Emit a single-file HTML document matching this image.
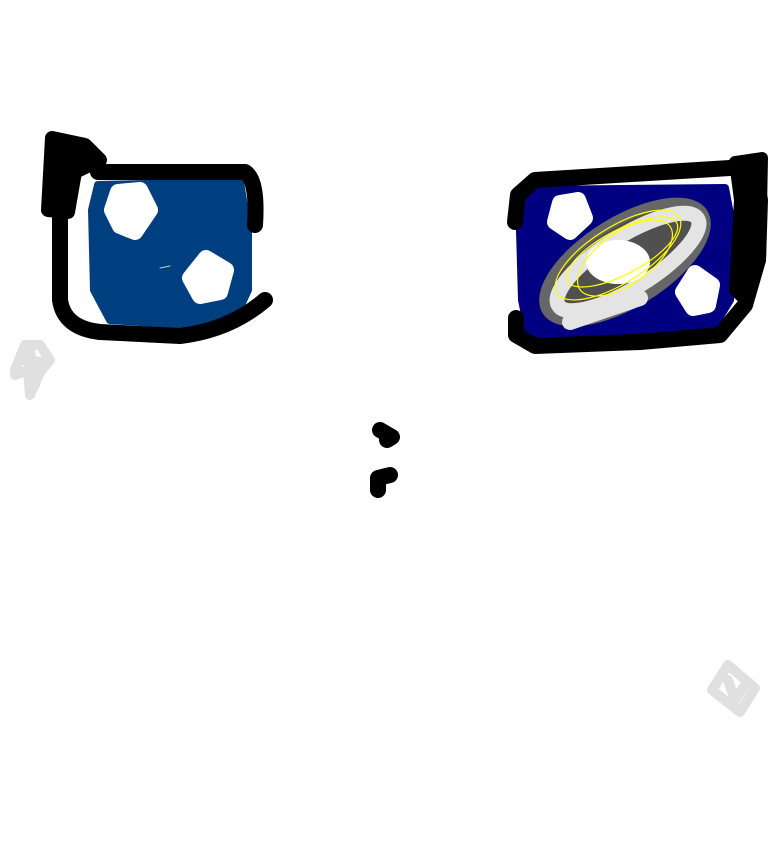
<!DOCTYPE html>
<html><head><style>html,body{margin:0;padding:0;background:#fff;width:768px;height:866px;overflow:hidden}</style></head>
<body>
<svg width="768" height="866" viewBox="0 0 768 866" xmlns="http://www.w3.org/2000/svg">
<g stroke-linecap="round" stroke-linejoin="round" fill="none">
<!-- left eye -->
<path d="M98 185 L240 182 L248 230 L248 290 L235 318 L200 326 L110 320 L94 290 L92 210 Z" fill="#003f7f" stroke="#003f7f" stroke-width="8"/>
<path d="M60 175 L60 300 Q64 328 100 332 L180 336 Q230 330 265 300 M98 172 L245 172 Q258 180 255 225" stroke="#000" stroke-width="16"/>
<path d="M52 138 L48 210 L68 212 L75 172 L100 160 L85 145 Z" fill="#000" stroke="#000" stroke-width="14"/>
<path d="M118 192 L140 190 L150 210 L135 232 L120 226 L112 210 Z" fill="#fff" stroke="#fff" stroke-width="16"/>
<path d="M206 258 L226 270 L220 292 L200 296 L190 278 Z" fill="#fff" stroke="#fff" stroke-width="16"/>
<line x1="160" y1="268" x2="170" y2="266" stroke="#ccc" stroke-width="1"/>
<!-- right eye -->
<path d="M525 190 L725 188 L735 240 L730 300 L712 330 L640 340 L530 340 L522 300 L520 230 Z" fill="#000080" stroke="#000080" stroke-width="8"/>
<path d="M515 222 L518 195 L535 180 L730 168 L752 162 L760 200 L758 260 L745 305 L720 335 L640 342 L535 346 L516 335 L516 318" stroke="#000" stroke-width="16"/>
<path d="M735 162 L762 158 L760 260 L745 300 L735 290 L740 200 Z" fill="#000" stroke="#000" stroke-width="12"/>
<ellipse cx="625" cy="262" rx="92" ry="40" transform="rotate(-32 625 262)" fill="#505050" stroke="#666" stroke-width="10"/>
<ellipse cx="628" cy="262" rx="82" ry="26" transform="rotate(-32 628 262)" stroke="#e4e4e4" stroke-width="15"/>
<path d="M570 322 L640 298" stroke="#e4e4e4" stroke-width="16"/>
<ellipse cx="618" cy="262" rx="32" ry="22" fill="#fff"/>
<g stroke="#ffff00" stroke-width="1.2">
<ellipse cx="618" cy="255" rx="72" ry="28" transform="rotate(-32 618 255)"/>
<ellipse cx="622" cy="252" rx="62" ry="22" transform="rotate(-28 622 252)"/>
<ellipse cx="625" cy="258" rx="55" ry="26" transform="rotate(-35 625 258)"/>
</g>
<path d="M560 203 L578 200 L585 218 L570 232 L555 222 Z" fill="#fff" stroke="#fff" stroke-width="16"/>
<path d="M695 273 L712 285 L708 305 L693 308 L683 292 Z" fill="#fff" stroke="#fff" stroke-width="16"/>
<!-- nose -->
<path d="M380 430 L392 437 L387 440" stroke="#000" stroke-width="16"/>
<path d="M378 490 L378 478 L390 475" stroke="#000" stroke-width="16"/>
<!-- grey scribbles -->
<path d="M15 370 L25 345 L40 345 L50 360 L40 372 L30 395 L28 370 L15 375 M30 350 L35 385 M20 360 L45 362" stroke="#e0e0e0" stroke-width="10"/>
<path d="M712 690 L728 665 L755 688 L740 712 Z M728 680 L735 700 L745 685" stroke="#e0e0e0" stroke-width="10"/>
</g>
</svg>
</body></html>
